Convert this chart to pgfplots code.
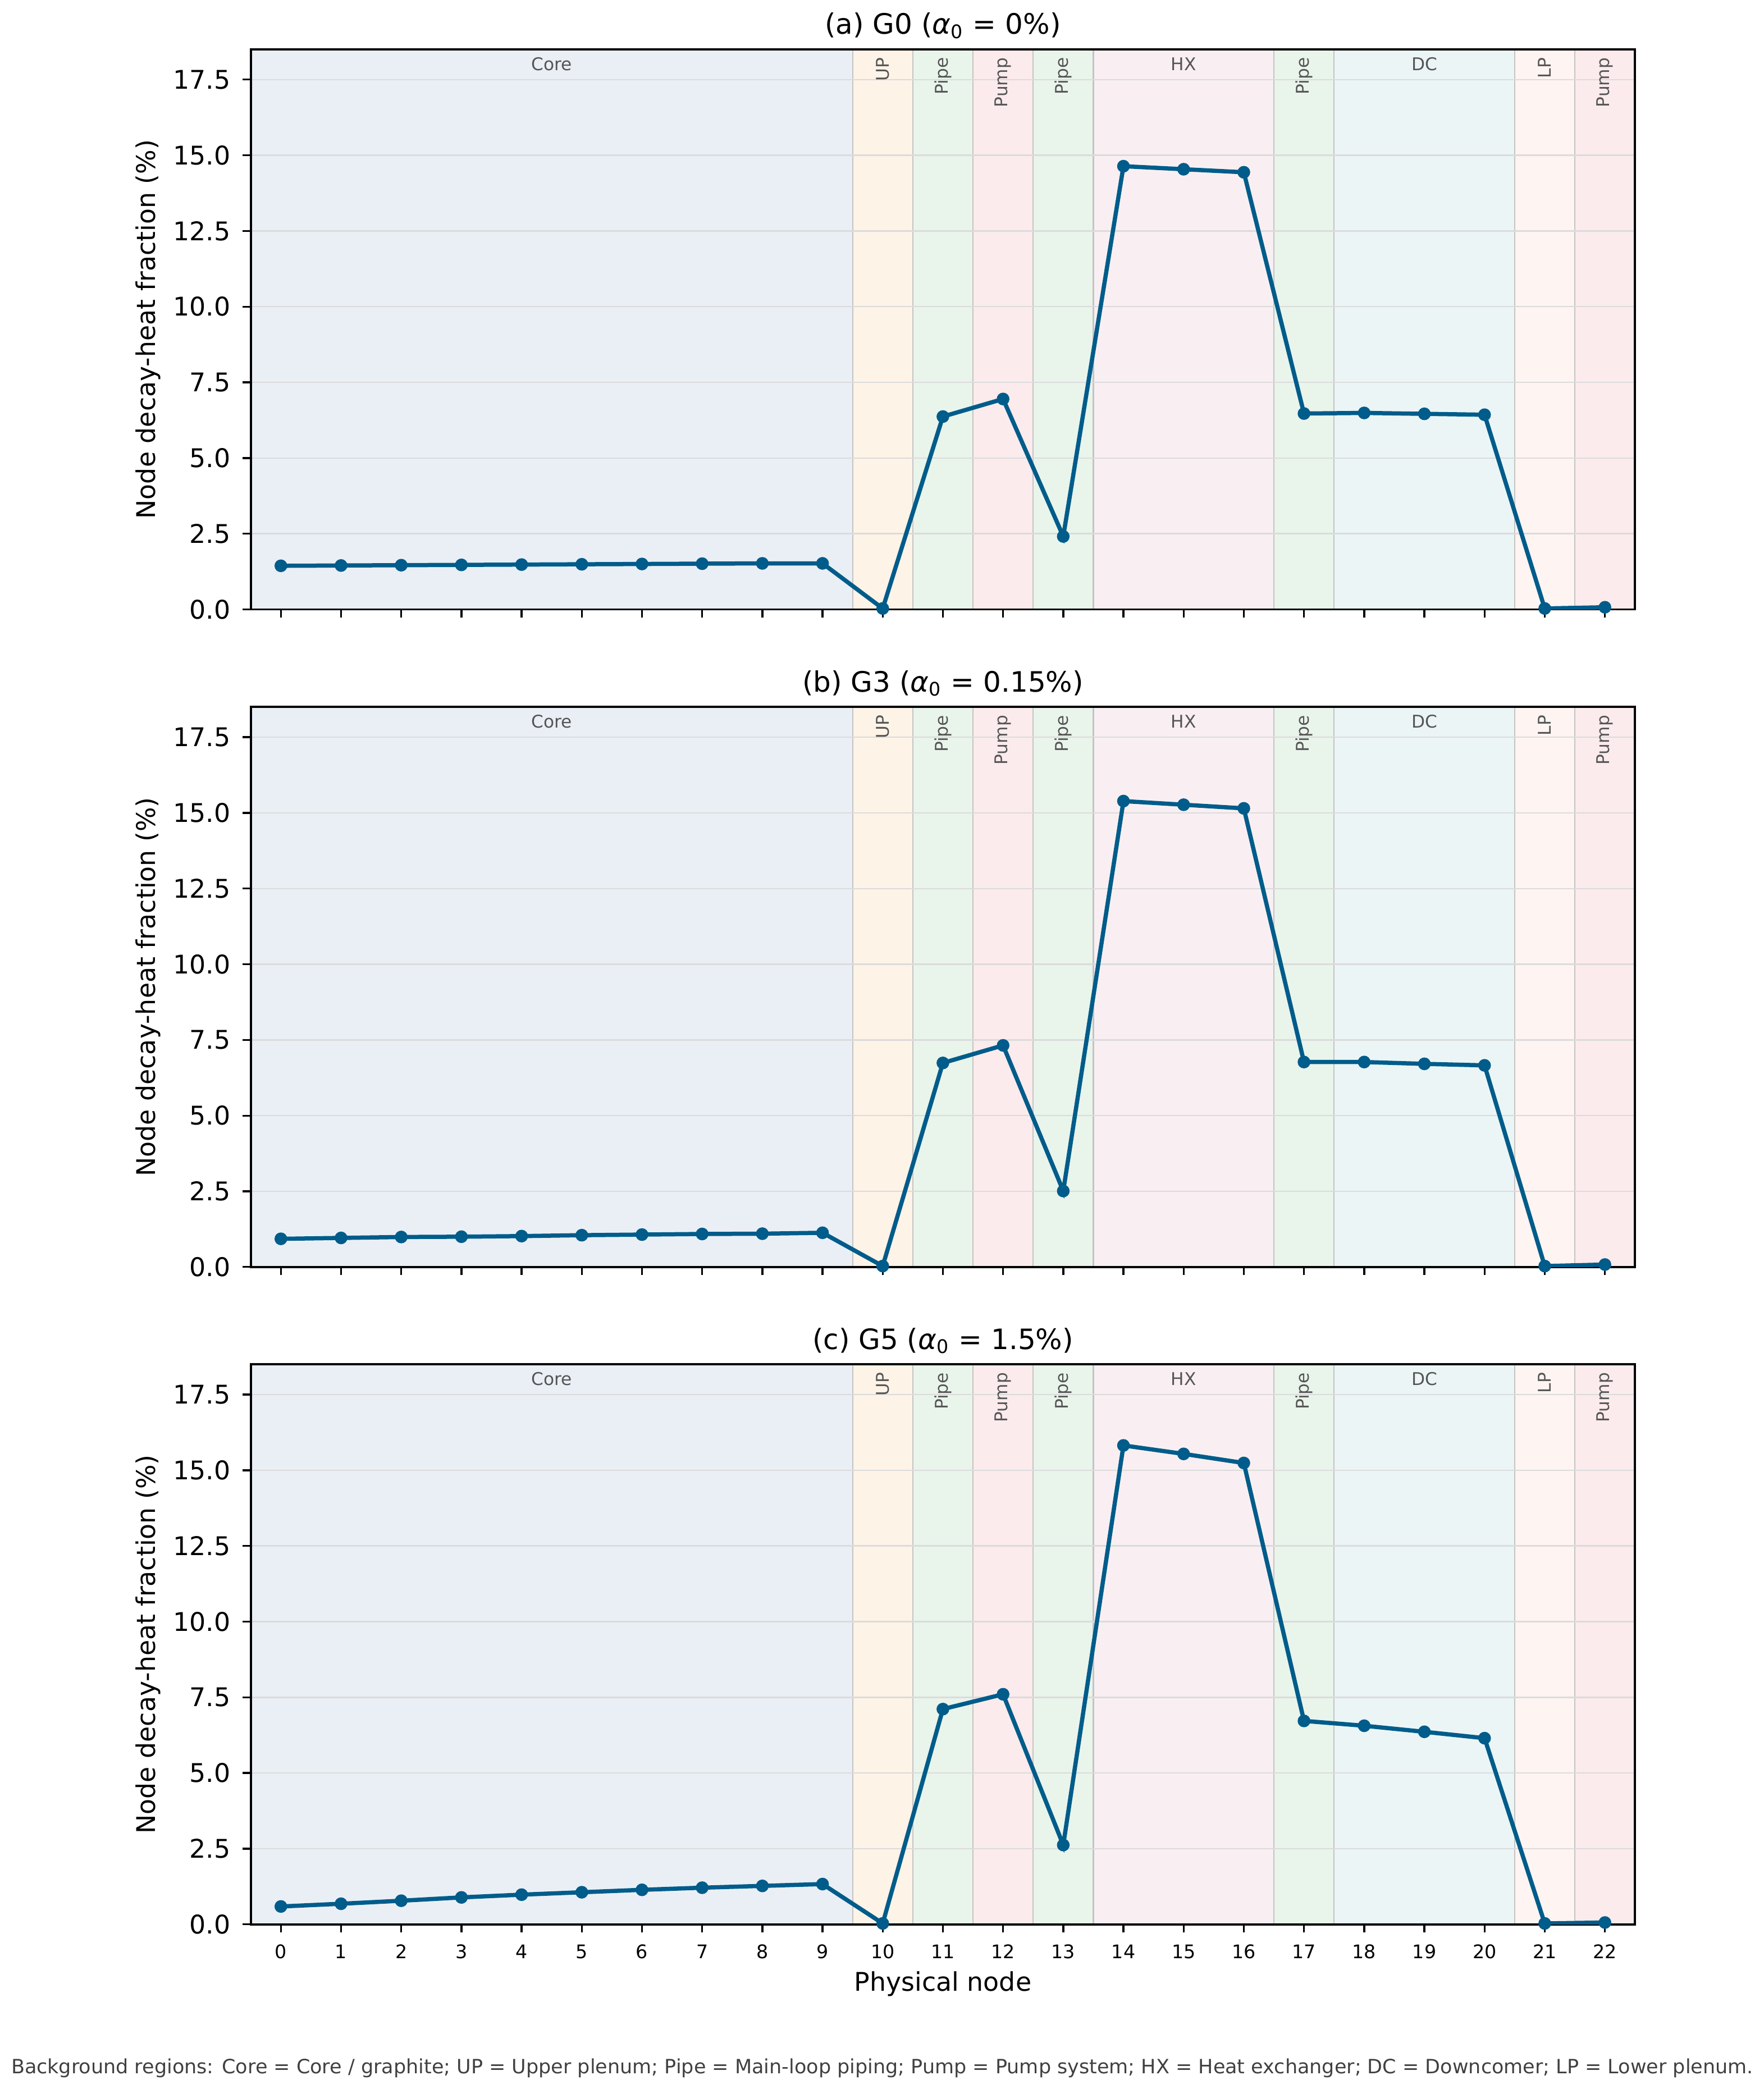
\documentclass[border=0pt]{standalone}
\usepackage{pgfplots}
\usepackage{pgfplotstable}
\pgfplotsset{compat=1.18}
\usepackage{fontspec}
\setmainfont{DejaVu Sans}

\definecolor{cCore}{HTML}{EAEFF6}
\definecolor{cUP}{HTML}{FEF3E7}
\definecolor{cPipe}{HTML}{E9F4EB}
\definecolor{cPump}{HTML}{FCEBEC}
\definecolor{cHX}{HTML}{F9EFF2}
\definecolor{cDC}{HTML}{EBF5F6}
\definecolor{cLP}{HTML}{FEF4F2}
\definecolor{sep}{HTML}{C4C4C4}
\definecolor{lineblue}{HTML}{005C8A}
\definecolor{lbl}{HTML}{555555}

\pgfplotstableread{
x y
0 1.44
1 1.45
2 1.46
3 1.47
4 1.48
5 1.49
6 1.50
7 1.51
8 1.52
9 1.52
10 0.03
11 6.37
12 6.95
13 2.41
14 14.64
15 14.54
16 14.44
17 6.47
18 6.49
19 6.46
20 6.43
21 0.03
22 0.07
}\dataA

\pgfplotstableread{
x y
0 0.93
1 0.96
2 0.99
3 1.00
4 1.02
5 1.05
6 1.07
7 1.09
8 1.10
9 1.13
10 0.03
11 6.74
12 7.32
13 2.51
14 15.39
15 15.27
16 15.15
17 6.77
18 6.77
19 6.71
20 6.66
21 0.03
22 0.08
}\dataB

\pgfplotstableread{
x y
0 0.59
1 0.68
2 0.78
3 0.89
4 0.98
5 1.06
6 1.14
7 1.21
8 1.27
9 1.33
10 0.03
11 7.11
12 7.60
13 2.62
14 15.82
15 15.54
16 15.24
17 6.72
18 6.56
19 6.36
20 6.15
21 0.03
22 0.06
}\dataC

\newcommand{\reg}[3]{\addplot[on layer=axis background, fill=#3, draw=sep, line width=0.5pt] coordinates {(#1,0) (#2,0) (#2,18.5) (#1,18.5)} -- cycle;}

\newcommand{\regions}{%
  \reg{-0.5}{9.5}{cCore}
  \reg{9.5}{10.5}{cUP}
  \reg{10.5}{11.5}{cPipe}
  \reg{11.5}{12.5}{cPump}
  \reg{12.5}{13.5}{cPipe}
  \reg{13.5}{16.5}{cHX}
  \reg{16.5}{17.5}{cPipe}
  \reg{17.5}{20.5}{cDC}
  \reg{20.5}{21.5}{cLP}
  \reg{21.5}{22.5}{cPump}
}

\tikzset{hlab/.style={text=lbl, font=\fontsize{7.5}{9}\selectfont, inner sep=0pt, anchor=center},
         vlab/.style={text=lbl, font=\fontsize{7.5}{9}\selectfont, inner sep=0pt, rotate=90, anchor=east}}

\newcommand{\regionlabels}{%
  \node[hlab] at (axis cs:4.5,18.02) {Core};
  \node[vlab] at (axis cs:10,18.24) {UP};
  \node[vlab] at (axis cs:11,18.24) {Pipe};
  \node[vlab] at (axis cs:12,18.24) {Pump};
  \node[vlab] at (axis cs:13,18.24) {Pipe};
  \node[hlab] at (axis cs:15,18.02) {HX};
  \node[vlab] at (axis cs:17,18.24) {Pipe};
  \node[hlab] at (axis cs:19,18.02) {DC};
  \node[vlab] at (axis cs:21,18.24) {LP};
  \node[vlab] at (axis cs:22,18.24) {Pump};
}

\pgfplotsset{
  panel/.style={
    set layers,
    width=591.7pt, height=239.4pt, scale only axis,
    anchor=north west,
    xmin=-0.5, xmax=22.5, ymin=0, ymax=18.5,
    xtick={0,...,22},
    ytick={0,2.5,5,7.5,10,12.5,15,17.5},
    ymajorgrids,
    major grid style={black!14, line width=0.6pt},
    tick align=outside, tick pos=left,
    major tick length=3.5pt,
    every tick/.style={black, line width=0.8pt},
    axis line style={line width=0.9pt},
    /pgf/number format/assume math mode=true,
    y tick label style={font=\fontsize{11}{13}\selectfont, /pgf/number format/.cd, fixed, fixed zerofill, precision=1},
    x tick label style={font=\fontsize{8}{10}\selectfont},
    xticklabel shift=1.7pt,
    yticklabel shift=1.7pt,
    ylabel={Node decay-heat fraction (\%)},
    every axis y label/.style={at={(axis description cs:-0.0742,0.5)}, rotate=90, anchor=center, font=\fontsize{11}{13}\selectfont},
    every axis title/.style={at={(axis description cs:0.5,1)}, anchor=base, yshift=6.5pt, font=\fontsize{12}{14}\selectfont},
  },
  dline/.style={lineblue, line width=1.8pt, mark=*, mark size=1.8pt, mark options={solid, fill=lineblue}},
}

\begin{document}
\begin{tikzpicture}

\begin{axis}[panel, at={(107.2pt,-21.1pt)}, xticklabels={},
  title={(a) G0 ({\itshape α}\textsubscript{0} = 0\%)}]
\regions
\addplot[dline] table {\dataA};
\regionlabels
\end{axis}

\begin{axis}[panel, at={(107.2pt,-302.2pt)}, xticklabels={},
  title={(b) G3 ({\itshape α}\textsubscript{0} = 0.15\%)}]
\regions
\addplot[dline] table {\dataB};
\regionlabels
\end{axis}

\begin{axis}[panel, at={(107.2pt,-583.2pt)},
  title={(c) G5 ({\itshape α}\textsubscript{0} = 1.5\%)},
  xlabel={Physical node},
  every axis x label/.style={at={(axis description cs:0.5,0)}, anchor=base, yshift=-28.6pt, font=\fontsize{11}{13}\selectfont}]
\regions
\addplot[dline] table {\dataC};
\regionlabels
\end{axis}

\node[anchor=base west, inner sep=0pt, text=black!75, font=\fontsize{8.4}{10}\selectfont] at (4.6pt,-886.5pt)
  {Background regions: Core = Core / graphite; UP = Upper plenum; Pipe = Main-loop piping; Pump = Pump system; HX = Heat exchanger; DC = Downcomer; LP = Lower plenum.};

\pgfresetboundingbox
\path[use as bounding box] (0,0) rectangle (754pt,-893pt);
\end{tikzpicture}
\end{document}
